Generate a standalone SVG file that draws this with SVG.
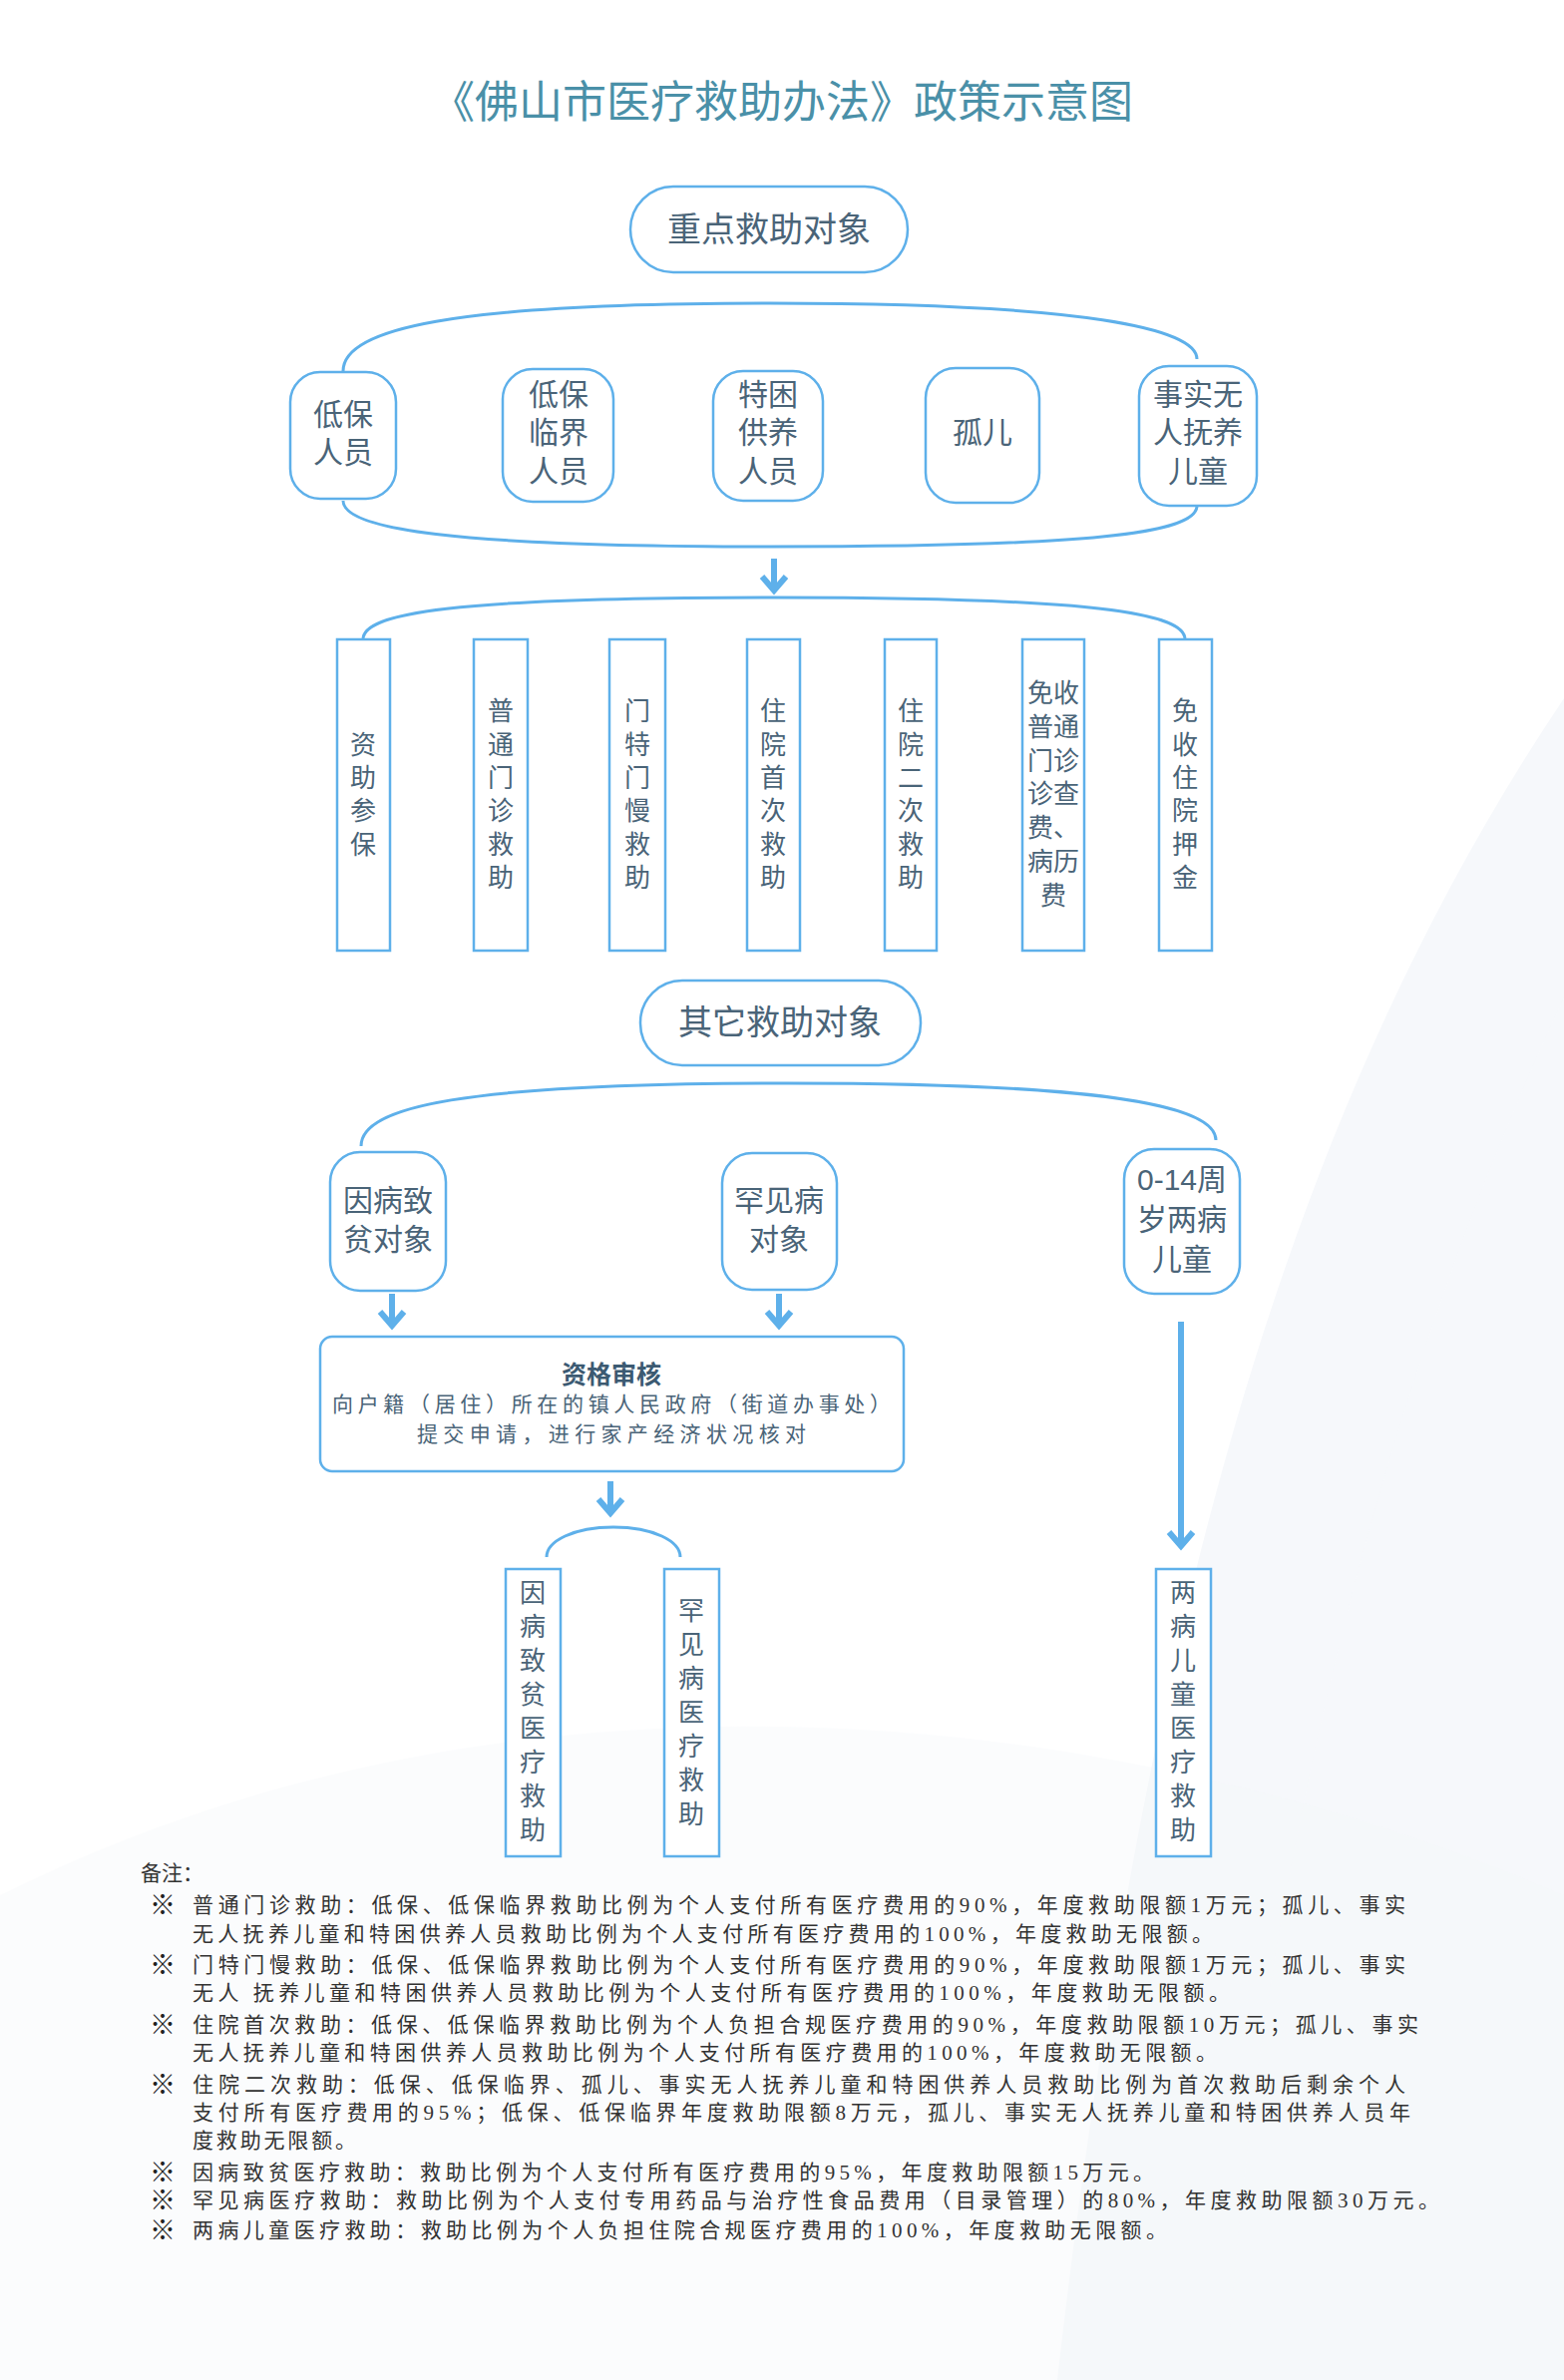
<svg xmlns="http://www.w3.org/2000/svg" width="1568" height="2386" viewBox="0 0 1568 2386">
<defs>
<style>
.bg{fill:#f6f8fb}
.n{fill:#fff;stroke:#5eb0ea;stroke-width:2.5}
.c{fill:none;stroke:#5eb0ea;stroke-width:3}
.a{fill:none;stroke:#5eb0ea;stroke-width:6}
.t{font-family:"Liberation Sans","Noto Sans CJK SC",sans-serif;fill:#4a6478;text-anchor:middle;dominant-baseline:central}
.big{font-size:34px}
.m{font-size:30px}
.v{font-size:26px}
.k{font-family:"Liberation Serif","Noto Sans CJK SC",serif;fill:#333;font-size:21px}
.x{font-size:26px;font-weight:bold;fill:#222}
</style>
</defs>
<rect width="1568" height="2386" fill="#fff"/>
<path class="bg" d="M1568,700 C1300,1100 1150,1600 1060,2386 L1568,2386 Z"/>
<path class="bg" d="M1568,1000 C1380,1400 1260,1900 1230,2386 L1568,2386 Z" opacity="0.6"/>
<path class="bg" d="M0,1900 C500,1650 1100,1700 1568,1900 L1568,2386 L0,2386 Z" opacity="0.4"/>
<text x="784" y="103" font-family="Liberation Serif,'Noto Sans CJK SC',serif" font-size="44" fill="#4a90a8" text-anchor="middle" dominant-baseline="central">《佛山市医疗救助办法》政策示意图</text>

<g id="connectors">
<path class="c" d="M344,372 C344,330 450,304 772,304 C1090,304 1200,330 1200,360"/>
<path class="c" d="M344,502 C344,530 450,548 772,548 C1090,548 1200,535 1200,507"/>
<path class="a" d="M776,560 V592 M764,578 L776,592 L788,578"/>
<path class="c" d="M364,641 C364,615 450,599 776,599 C1100,599 1188,615 1188,641"/>
<path class="c" d="M362,1149 C362,1110 460,1086 790,1086 C1120,1086 1219,1110 1219,1143"/>
<path class="a" d="M393,1297 V1329 M381,1315 L393,1329 L405,1315"/>
<path class="a" d="M781,1297 V1329 M769,1315 L781,1329 L793,1315"/>
<path class="a" d="M612,1485 V1517 M600,1503 L612,1517 L624,1503"/>
<path class="a" d="M1184,1325 V1550 M1172,1536 L1184,1550 L1196,1536"/>
<path class="c" d="M548,1561 C548,1545 575,1531 615,1531 C655,1531 682,1545 682,1561"/>
</g>

<g id="n-key"><rect class="n" x="632" y="187" width="278" height="86" rx="43"/><text class="t big" x="771" y="230">重点救助对象</text></g>
<g id="n-dibao"><rect class="n" x="291" y="373" width="106" height="127" rx="30"/><text class="t m" x="344" y="415">低保</text><text class="t m" x="344" y="453">人员</text></g>
<g id="n-linjie"><rect class="n" x="504" y="370" width="111" height="133" rx="30"/><text class="t m" x="560" y="395">低保</text><text class="t m" x="560" y="433">临界</text><text class="t m" x="560" y="472">人员</text></g>
<g id="n-tekun"><rect class="n" x="715" y="372" width="110" height="130" rx="30"/><text class="t m" x="770" y="395">特困</text><text class="t m" x="770" y="433">供养</text><text class="t m" x="770" y="472">人员</text></g>
<g id="n-guer"><rect class="n" x="928" y="369" width="114" height="135" rx="30"/><text class="t m" x="985" y="433">孤儿</text></g>
<g id="n-shishi"><rect class="n" x="1142" y="367" width="118" height="140" rx="30"/><text class="t m" x="1201" y="395">事实无</text><text class="t m" x="1201" y="433">人抚养</text><text class="t m" x="1201" y="472">儿童</text></g>

<g id="b1"><rect class="n" x="338" y="641" width="53" height="312"/><text class="t v" x="364"><tspan x="364" y="747">资</tspan><tspan x="364" y="780">助</tspan><tspan x="364" y="813">参</tspan><tspan x="364" y="847">保</tspan></text></g>
<g id="b2"><rect class="n" x="475" y="641" width="54" height="312"/><text class="t v"><tspan x="502" y="713">普</tspan><tspan x="502" y="747">通</tspan><tspan x="502" y="780">门</tspan><tspan x="502" y="813">诊</tspan><tspan x="502" y="847">救</tspan><tspan x="502" y="880">助</tspan></text></g>
<g id="b3"><rect class="n" x="611" y="641" width="56" height="312"/><text class="t v"><tspan x="639" y="713">门</tspan><tspan x="639" y="747">特</tspan><tspan x="639" y="780">门</tspan><tspan x="639" y="813">慢</tspan><tspan x="639" y="847">救</tspan><tspan x="639" y="880">助</tspan></text></g>
<g id="b4"><rect class="n" x="749" y="641" width="53" height="312"/><text class="t v"><tspan x="775" y="713">住</tspan><tspan x="775" y="747">院</tspan><tspan x="775" y="780">首</tspan><tspan x="775" y="813">次</tspan><tspan x="775" y="847">救</tspan><tspan x="775" y="880">助</tspan></text></g>
<g id="b5"><rect class="n" x="887" y="641" width="52" height="312"/><text class="t v"><tspan x="913" y="713">住</tspan><tspan x="913" y="747">院</tspan><tspan x="913" y="780">二</tspan><tspan x="913" y="813">次</tspan><tspan x="913" y="847">救</tspan><tspan x="913" y="880">助</tspan></text></g>
<g id="b6"><rect class="n" x="1025" y="641" width="62" height="312"/><text class="t v" font-size="25"><tspan x="1056" y="695">免收</tspan><tspan x="1056" y="729">普通</tspan><tspan x="1056" y="763">门诊</tspan><tspan x="1056" y="796">诊查</tspan><tspan x="1056" y="830">费、</tspan><tspan x="1056" y="864">病历</tspan><tspan x="1056" y="898">费</tspan></text></g>
<g id="b7"><rect class="n" x="1162" y="641" width="53" height="312"/><text class="t v"><tspan x="1188" y="713">免</tspan><tspan x="1188" y="747">收</tspan><tspan x="1188" y="780">住</tspan><tspan x="1188" y="813">院</tspan><tspan x="1188" y="847">押</tspan><tspan x="1188" y="880">金</tspan></text></g>

<g id="n-other"><rect class="n" x="642" y="983" width="281" height="85" rx="42"/><text class="t big" x="782" y="1025">其它救助对象</text></g>
<g id="n-yinbing"><rect class="n" x="331" y="1155" width="116" height="139" rx="30"/><text class="t m" x="389" y="1203">因病致</text><text class="t m" x="389" y="1242">贫对象</text></g>
<g id="n-hanjian"><rect class="n" x="724" y="1156" width="115" height="137" rx="30"/><text class="t m" x="781" y="1203">罕见病</text><text class="t m" x="781" y="1242">对象</text></g>
<g id="n-child"><rect class="n" x="1127" y="1152" width="116" height="145" rx="30"/><text class="t m" x="1185" y="1182">0-14周</text><text class="t m" x="1185" y="1222">岁两病</text><text class="t m" x="1185" y="1262">儿童</text></g>

<g id="n-review"><rect class="n" x="321" y="1340" width="585" height="135" rx="12" stroke-width="1.5"/>
<text x="613" y="1378" font-family="Liberation Serif,'Noto Sans CJK SC',serif" font-size="25" font-weight="bold" fill="#3c5a72" text-anchor="middle" dominant-baseline="central">资格审核</text>
<text x="613" y="1408" font-family="Liberation Serif,'Noto Sans CJK SC',serif" font-size="21" fill="#4a6478" text-anchor="middle" dominant-baseline="central" textLength="560">向户籍（居住）所在的镇人民政府（街道办事处）</text>
<text x="613" y="1438" font-family="Liberation Serif,'Noto Sans CJK SC',serif" font-size="21" fill="#4a6478" text-anchor="middle" dominant-baseline="central" textLength="390">提交申请，进行家产经济状况核对</text></g>

<g id="r1"><rect class="n" x="507" y="1573" width="55" height="288"/><text class="t v"><tspan x="534" y="1597">因</tspan><tspan x="534" y="1631">病</tspan><tspan x="534" y="1665">致</tspan><tspan x="534" y="1699">贫</tspan><tspan x="534" y="1733">医</tspan><tspan x="534" y="1767">疗</tspan><tspan x="534" y="1801">救</tspan><tspan x="534" y="1835">助</tspan></text></g>
<g id="r2"><rect class="n" x="666" y="1573" width="55" height="288"/><text class="t v"><tspan x="693" y="1615">罕</tspan><tspan x="693" y="1649">见</tspan><tspan x="693" y="1683">病</tspan><tspan x="693" y="1717">医</tspan><tspan x="693" y="1751">疗</tspan><tspan x="693" y="1785">救</tspan><tspan x="693" y="1819">助</tspan></text></g>
<g id="r3"><rect class="n" x="1159" y="1573" width="55" height="288"/><text class="t v"><tspan x="1186" y="1597">两</tspan><tspan x="1186" y="1631">病</tspan><tspan x="1186" y="1665">儿</tspan><tspan x="1186" y="1699">童</tspan><tspan x="1186" y="1733">医</tspan><tspan x="1186" y="1767">疗</tspan><tspan x="1186" y="1801">救</tspan><tspan x="1186" y="1835">助</tspan></text></g>

<g id="notes" class="k">
<text x="141" y="1885">备注：</text>
<text class="x" x="150" y="1919">※</text><text x="193" y="1917" textLength="1216">普通门诊救助：低保、低保临界救助比例为个人支付所有医疗费用的90%，年度救助限额1万元；孤儿、事实</text>
<text x="193" y="1946" textLength="1023">无人抚养儿童和特困供养人员救助比例为个人支付所有医疗费用的100%，年度救助无限额。</text>
<text class="x" x="150" y="1979">※</text><text x="193" y="1977" textLength="1216">门特门慢救助：低保、低保临界救助比例为个人支付所有医疗费用的90%，年度救助限额1万元；孤儿、事实</text>
<text x="193" y="2005" textLength="1040">无人 抚养儿童和特困供养人员救助比例为个人支付所有医疗费用的100%，年度救助无限额。</text>
<text class="x" x="150" y="2039">※</text><text x="193" y="2037" textLength="1229">住院首次救助：低保、低保临界救助比例为个人负担合规医疗费用的90%，年度救助限额10万元；孤儿、事实</text>
<text x="193" y="2065" textLength="1027">无人抚养儿童和特困供养人员救助比例为个人支付所有医疗费用的100%，年度救助无限额。</text>
<text class="x" x="150" y="2099">※</text><text x="193" y="2097" textLength="1216">住院二次救助：低保、低保临界、孤儿、事实无人抚养儿童和特困供养人员救助比例为首次救助后剩余个人</text>
<text x="193" y="2125" textLength="1221">支付所有医疗费用的95%；低保、低保临界年度救助限额8万元，孤儿、事实无人抚养儿童和特困供养人员年</text>
<text x="193" y="2153" textLength="164">度救助无限额。</text>
<text class="x" x="150" y="2187">※</text><text x="193" y="2185" textLength="964">因病致贫医疗救助：救助比例为个人支付所有医疗费用的95%，年度救助限额15万元。</text>
<text class="x" x="150" y="2215">※</text><text x="193" y="2213" textLength="1250">罕见病医疗救助：救助比例为个人支付专用药品与治疗性食品费用（目录管理）的80%，年度救助限额30万元。</text>
<text class="x" x="150" y="2245">※</text><text x="193" y="2243" textLength="977">两病儿童医疗救助：救助比例为个人负担住院合规医疗费用的100%，年度救助无限额。</text>
</g>
</svg>
